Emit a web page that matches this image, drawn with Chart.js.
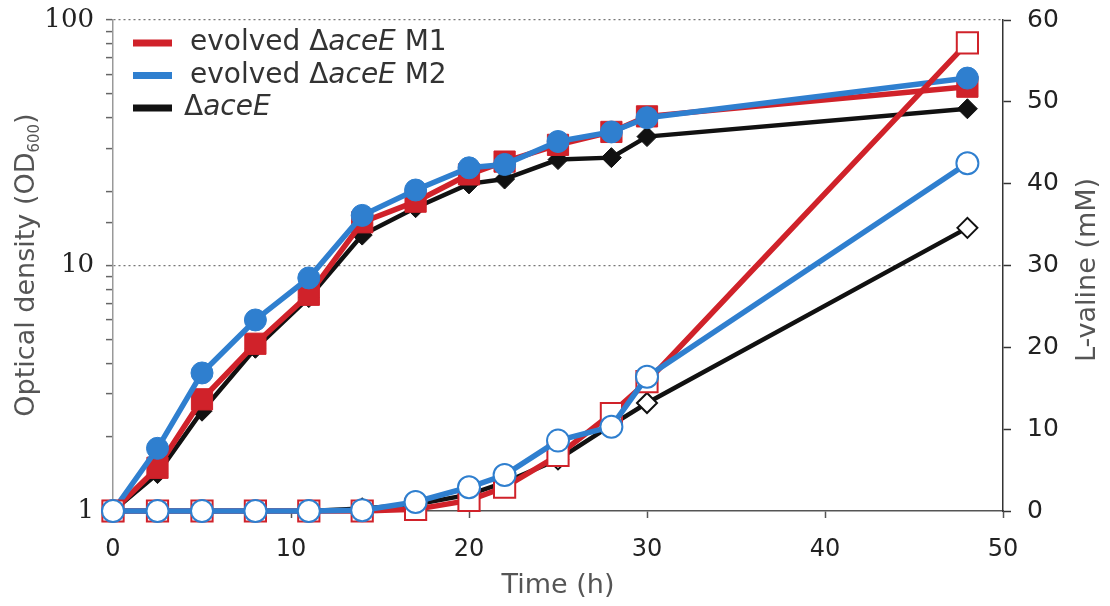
<!DOCTYPE html>
<html>
<head>
<meta charset="utf-8">
<script src="https://cdn.jsdelivr.net/npm/chart.js@4.4.1/dist/chart.umd.min.js"></script>
<style>
  html, body { margin: 0; padding: 0; background: #fff; }
  #wrap { width: 1110px; height: 606px; }
</style>
</head>
<body>
<div id="wrap"><canvas id="chart" width="1110" height="606"></canvas></div>
<script>
// sampling times (h)
const times = [0, 2.5, 5, 8, 11, 14, 17, 20, 22, 25, 28, 30, 48];

// optical density (OD600), left log axis
const odM1 = [1.0, 1.5, 2.85, 4.8, 7.6, 15.0, 18.2, 23.5, 26.5, 31.0, 35.0, 40.5, 53.5];
const odM2 = [1.0, 1.8, 3.65, 6.0, 8.9, 16.0, 20.3, 25.0, 25.8, 32.0, 35.0, 40.0, 58.0];
const odWT = [1.0, 1.42, 2.55, 4.6, 7.4, 13.3, 17.2, 21.5, 22.5, 27.0, 27.5, 33.5, 43.5];

// L-valine (mM), right axis
const valM1 = [0, 0, 0, 0, 0, 0, 0.2, 1.3, 2.9, 6.8, 11.9, 15.8, 57.2];
const valM2 = [0, 0, 0, 0, 0, 0.1, 1.1, 2.9, 4.4, 8.6, 10.3, 16.4, 42.5];
const valWT = [0, 0, 0, 0, 0, 0.3, 0.8, 2.0, 3.5, 6.3, 10.5, 13.2, 34.6];

const strainNames = ['evolved \u0394aceE M1', 'evolved \u0394aceE M2', '\u0394aceE'];
const xTicks = [0, 10, 20, 30, 40, 50];
const odTickLabels = [1, 10, 100];
const valTicks = [0, 10, 20, 30, 40, 50, 60];

const RED = '#d0222a';
const BLUE = '#2f7fcf';
const BLACK = '#111111';
const SANS = '"DejaVu Sans", sans-serif';
const SERIF = '"DejaVu Serif", serif';

function series(label, values, color, axis, style, radius, open, width, order) {
  return {
    label,
    data: times.map((t, i) => ({ x: t, y: values[i] })),
    yAxisID: axis,
    borderColor: color,
    backgroundColor: color,
    borderWidth: width,
    pointStyle: style,
    pointRadius: radius,
    pointBackgroundColor: open ? '#ffffff' : color,
    pointBorderColor: color,
    pointBorderWidth: open ? 2 : 1,
    tension: 0,
    clip: false,
    order
  };
}

// fixed axis box sizes so the plot area lands where the reference has it
function fixBox(size, key) {
  return (s) => {
    s[key] = size;
    s.paddingTop = 0;
    s.paddingBottom = 0;
    s.paddingLeft = 0;
    s.paddingRight = 0;
  };
}

// draws a row of text pieces [text, font, dy] starting at x
function drawRuns(ctx, runs, x, y, center) {
  let total = 0;
  for (const r of runs) { ctx.font = r[1]; total += ctx.measureText(r[0]).width; }
  let cx = center ? x - total / 2 : x;
  for (const r of runs) {
    ctx.font = r[1];
    ctx.fillText(r[0], cx, y + (r[2] || 0));
    cx += ctx.measureText(r[0]).width;
  }
}

const decorations = {
  id: 'decorations',
  afterDraw(chart) {
    const ctx = chart.ctx;
    const area = chart.chartArea;
    ctx.save();
    ctx.textBaseline = 'middle';
    ctx.textAlign = 'left';

    // axis titles
    ctx.fillStyle = '#555';
    const tf = '27px ' + SANS;
    ctx.save();
    ctx.translate(27, 265);
    ctx.rotate(-Math.PI / 2);
    drawRuns(ctx, [['Optical density (OD', tf], ['600', '15px ' + SANS, 8], [')', tf]], 0, 0, true);
    ctx.restore();

    ctx.save();
    ctx.translate(1088, 270);
    ctx.rotate(-Math.PI / 2);
    drawRuns(ctx, [['L-valine (mM)', tf]], 0, 0, true);
    ctx.restore();

    drawRuns(ctx, [['Time (h)', tf]], (area.left + area.right) / 2, 586, true);

    // legend
    const colors = [RED, BLUE, BLACK];
    const lf = '28px ' + SANS;
    const lfi = 'italic 28px ' + SANS;
    strainNames.forEach((name, i) => {
      const y = 43 + i * 32.5;
      ctx.strokeStyle = colors[i];
      ctx.lineWidth = 7;
      ctx.beginPath();
      ctx.moveTo(133, y);
      ctx.lineTo(172, y);
      ctx.stroke();
      const k = name.indexOf('aceE');
      const runs = [[name.slice(0, k), lf], ['aceE', lfi], [name.slice(k + 4), lf]];
      ctx.fillStyle = '#333';
      drawRuns(ctx, runs, i < 2 ? 190 : 184, y, false);
    });
    ctx.restore();
  }
};

new Chart(document.getElementById('chart'), {
  type: 'line',
  data: {
    datasets: [
      series(strainNames[1] + ' valine', valM2, BLUE, 'y1', 'circle', 11, true, 5.5, 1),
      series(strainNames[0] + ' valine', valM1, RED, 'y1', 'rect', 15, true, 5.5, 2),
      series(strainNames[2] + ' valine', valWT, BLACK, 'y1', 'rectRot', 10, true, 4.5, 3),
      series(strainNames[1], odM2, BLUE, 'y', 'circle', 11, false, 5.5, 4),
      series(strainNames[0], odM1, RED, 'y', 'rect', 15, false, 5.5, 5),
      series(strainNames[2], odWT, BLACK, 'y', 'rectRot', 10, false, 4.5, 6)
    ]
  },
  options: {
    responsive: false,
    animation: false,
    devicePixelRatio: 1,
    layout: { padding: { top: 20, left: 0, right: 0, bottom: 0 } },
    plugins: {
      legend: { display: false },
      tooltip: { enabled: false }
    },
    scales: {
      x: {
        type: 'linear',
        min: 0,
        max: 50,
        afterBuildTicks: (s) => { s.ticks = xTicks.map(v => ({ value: v })); },
        afterFit: fixBox(95, 'height'),
        ticks: { color: '#222', font: { family: SANS, size: 24 }, padding: 17 },
        grid: { drawOnChartArea: false, tickLength: 7, tickColor: '#555', tickWidth: 1.5 },
        border: { color: '#555', width: 1.5 }
      },
      y: {
        type: 'logarithmic',
        position: 'left',
        min: 1,
        max: 100,
        afterFit: fixBox(113, 'width'),
        ticks: {
          autoSkip: false,
          color: '#222',
          font: { family: SERIF, size: 26 },
          padding: 12,
          callback: (v) => odTickLabels.includes(v) ? String(v) : ''
        },
        grid: {
          color: (c) => (c.tick && (c.tick.value === 10 || c.tick.value === 100)) ? '#777' : 'rgba(0,0,0,0)',
          lineWidth: 1.2,
          tickLength: 7,
          tickColor: '#666',
          tickWidth: 1.5,
          tickBorderDash: []
        },
        border: { color: '#999', width: 1.5, dash: [2, 3] }
      },
      y1: {
        type: 'linear',
        position: 'right',
        min: 0,
        max: 60,
        afterBuildTicks: (s) => { s.ticks = valTicks.map(v => ({ value: v })); },
        afterFit: fixBox(107, 'width'),
        ticks: { color: '#222', font: { family: SANS, size: 25 }, padding: 16 },
        grid: { drawOnChartArea: false, tickLength: 8, tickColor: '#333', tickWidth: 1.5 },
        border: { color: '#333', width: 1.5 }
      }
    }
  },
  plugins: [decorations]
});
</script>
</body>
</html>
